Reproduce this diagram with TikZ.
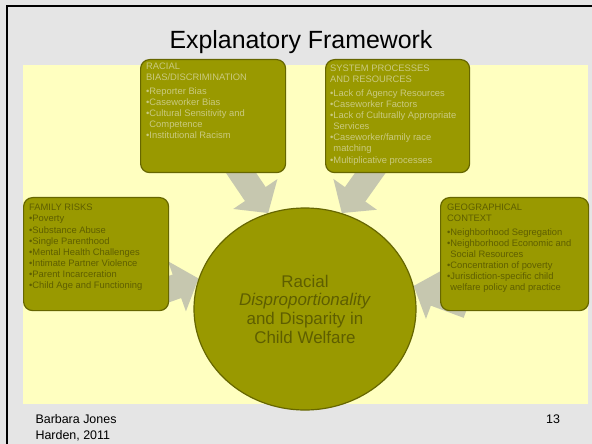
\documentclass[tikz,border=0pt]{standalone}
\usepackage{fontspec}
\setmainfont{Liberation Sans}
\usetikzlibrary{positioning,shapes.geometric,arrows.meta}

\definecolor{pagegray}{HTML}{E5E5E5}
\definecolor{paleyellow}{HTML}{FFFFC0}
\definecolor{olivefill}{HTML}{999900}
\definecolor{olivedark}{HTML}{666600}
\definecolor{olivetext}{HTML}{5E5E00}
\definecolor{olivepale}{HTML}{CACA80}
\definecolor{arrowgray}{HTML}{C6C7AF}

\pgfdeclarelayer{background}
\pgfdeclarelayer{arrows}
\pgfsetlayers{background,arrows,main}

\tikzset{
  factorbox/.style={rectangle, rounded corners=9bp, draw=olivedark, line width=1.2bp, fill=olivefill, minimum width=145bp, minimum height=113bp, anchor=north west},
  factortext/.style={anchor=north west, align=left, inner sep=0pt, font=\fontsize{9.4}{11.2}\selectfont},
  blockarrow/.style={arrowgray, line width=25bp, -{Triangle[length=23bp,width=52bp]}}
}

\begin{document}
\begin{tikzpicture}[x=1bp, y=-1bp]
    \useasboundingbox (0,0) rectangle (592,444);

    % Hintergrund
    \begin{pgfonlayer}{background}
      \fill[pagegray] (0,0) rectangle (592,444);
      \fill[paleyellow] (23,65) rectangle (588,404);
      \draw[line width=2bp] (7,444) -- (7,6) -- (592,6);
    \end{pgfonlayer}

    % Titel
    \node (Title) at (301,42) [font=\fontsize{25}{30}\selectfont] {Explanatory Framework};

    % Kaesten
    \node (Bias) at (140,59) [factorbox] {};
    \node (System) at (325,59) [factorbox, minimum width=144bp] {};
    \node (Family) at (23,197) [factorbox] {};
    \node (Context) at (440,197) [factorbox, minimum width=148bp] {};

    \node (BiasText) at ([shift={(6,4)}]Bias.north west) [factortext, text=olivepale]
      {RACIAL\\BIAS/DISCRIMINATION\\[2bp]
       •Reporter Bias\\
       •Caseworker Bias\\
       •Cultural Sensitivity and\\\hphantom{•}Competence\\
       •Institutional Racism};
    \node (SystemText) at ([shift={(5,6)}]System.north west) [factortext, text=olivepale]
      {SYSTEM PROCESSES\\AND RESOURCES\\[2bp]
       •Lack of Agency Resources\\
       •Caseworker Factors\\
       •Lack of Culturally Appropriate\\\hphantom{•}Services\\
       •Caseworker/family race\\\hphantom{•}matching\\
       •Multiplicative processes};
    \node (FamilyText) at ([shift={(6,7)}]Family.north west) [factortext, text=olivetext]
      {FAMILY RISKS\\
       •Poverty\\
       •Substance Abuse\\
       •Single Parenthood\\
       •Mental Health Challenges\\
       •Intimate Partner Violence\\
       •Parent Incarceration\\
       •Child Age and Functioning};
    \node (ContextText) at ([shift={(7,7)}]Context.north west) [factortext, text=olivetext]
      {GEOGRAPHICAL\\CONTEXT\\[2bp]
       •Neighborhood Segregation\\
       •Neighborhood Economic and\\\hphantom{•}Social Resources\\
       •Concentration of poverty\\
       •Jurisdiction-specific child\\\hphantom{•}welfare policy and practice};

    % Kreis in der Mitte
    \node (Circle) at (305,309) [ellipse, draw=olivedark, line width=1.2bp, fill=olivefill, minimum width=222bp, minimum height=202bp, align=center, text=olivetext, font=\fontsize{17}{18.7}\selectfont]
      {Racial\\\textit{Disproportionality}\\and Disparity in\\Child Welfare};

    % Pfeile zum Kreis
    \begin{pgfonlayer}{arrows}
      \draw[blockarrow] ([shift={(20,-12)}]Bias.south) -- (Circle.111);
      \draw[blockarrow] ([shift={(-19,-12)}]System.south) -- (Circle.69);
      \draw[blockarrow] ([shift={(-28,45)}]Family.east) -- (Circle.164);
      \draw[blockarrow] ([shift={(28,52)}]Context.west) -- (Circle.12);
    \end{pgfonlayer}

    % Fusszeile
    \node (Author) at (32,428) [anchor=west, align=left, font=\fontsize{12.5}{16}\selectfont] {Barbara Jones\\Harden, 2011};
    \node (PageNum) at (553,419) [font=\fontsize{12.5}{16}\selectfont] {13};

\end{tikzpicture}
\end{document}
